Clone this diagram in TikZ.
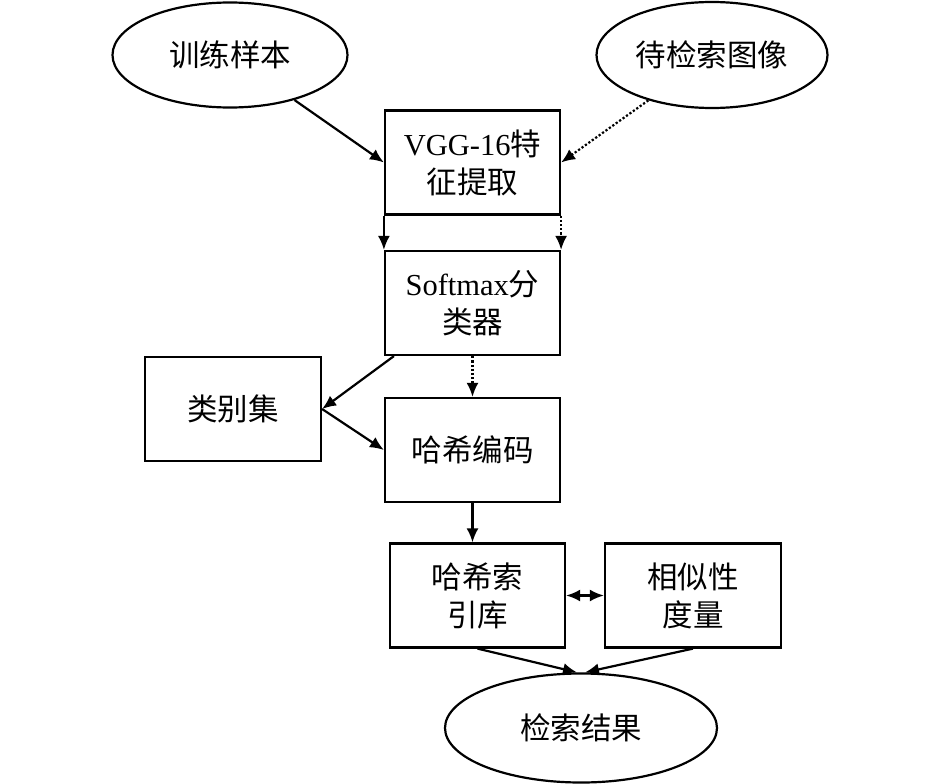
\documentclass[tikz,border=0pt]{standalone}
\usepackage{fontspec}
\setmainfont{Liberation Serif}
\newfontfamily\cjk{Noto Sans CJK SC}
\usepackage{tikz}
\usetikzlibrary{arrows.meta,shapes.geometric}
\tikzset{box/.style = {shape = rectangle, draw, line width = 2.2pt, minimum width = 175pt, minimum height = 104pt, align = center, inner sep = 0pt}}
\tikzset{oval/.style = {shape = ellipse, draw, line width = 2.2pt, inner sep = 0pt}}
\tikzset{arc/.style = {->, > = {Latex[length = 14pt, width = 12pt]}, line width = 2.2pt}}
\tikzset{dotarc/.style = {arc, dotted}}

\begin{document}
\begin{tikzpicture}[x = 1pt, y = -1pt, font = \fontsize{30.5}{38}\selectfont]
			\useasboundingbox (0, 0) rectangle (945, 784);
			\node[oval, minimum width = 235pt, minimum height = 105pt] (train) at (230, 55) {\cjk 训练样本};
			\node[oval, minimum width = 231pt, minimum height = 106pt] (query) at (712, 55) {\cjk 待检索图像};
			\node[box] (vgg) at (472.5, 162.5) {VGG-16{\cjk 特}\\{\cjk 征提取}};
			\node[box] (soft) at (472.5, 303) {Softmax{\cjk 分}\\{\cjk 类器}};
			\node[box, minimum width = 176pt] (cls) at (233, 409) {\cjk 类别集};
			\node[box] (hash) at (472.5, 450) {\cjk 哈希编码};
			\node[box] (lib) at (477.5, 595.5) {{\cjk 哈希索}\\{\cjk 引库}};
			\node[box, minimum width = 176pt] (sim) at (693, 595.5) {{\cjk 相似性}\\{\cjk 度量}};
			\node[oval, minimum width = 272pt, minimum height = 109pt] (res) at (581, 728) {\cjk 检索结果};

			\draw[arc] (train) to (vgg.west);
			\draw[dotarc] (query) to (vgg.east);
			\draw[arc] (vgg.south west) to (soft.north west);
			\draw[dotarc] (vgg.south east) to (soft.north east);
			\draw[arc] ([xshift = 10pt]soft.south west) to (cls.east);
			\draw[arc] (cls.east) to (hash.west);
			\draw[dotarc] (soft.south) to (hash.north);
			\draw[arc] (hash.south) to (hash.south |- lib.north);
			\draw[arc, <->] (lib.east) to (sim.west);
			\draw[arc] (lib.south) to ([xshift = -4pt]res.north);
			\draw[arc] (sim.south) to ([xshift = 4pt]res.north);
		\end{tikzpicture}
\end{document}
